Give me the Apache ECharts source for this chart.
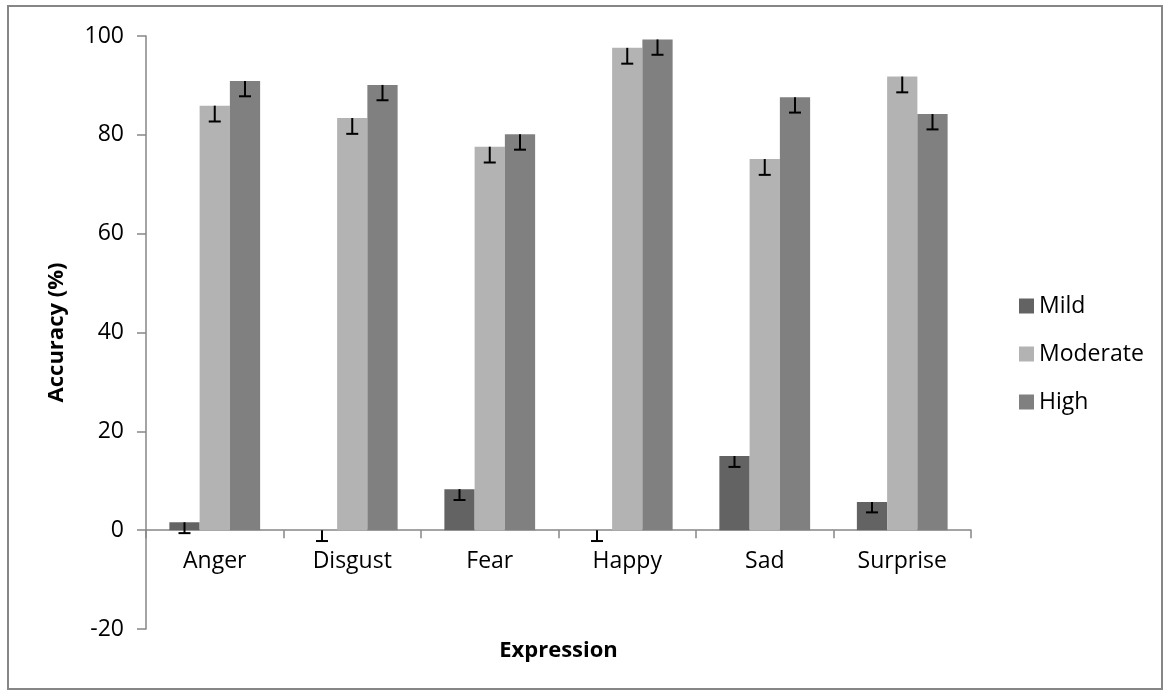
<!DOCTYPE html>
<html>
<head>
<meta charset="utf-8">
<script src="https://cdn.jsdelivr.net/npm/echarts@6/dist/echarts.min.js"></script>
<style>
html,body{margin:0;padding:0;background:#fff;}
#chart{width:1169px;height:695px;}
</style>
</head>
<body>
<div id="chart"></div>
<script>
const categories = ['Anger', 'Disgust', 'Fear', 'Happy', 'Sad', 'Surprise'];
const seriesNames = ['Mild', 'Moderate', 'High'];
const mild = [1.6, 0, 8.3, 0, 15.0, 5.7];
const moderate = [85.9, 83.4, 77.6, 97.6, 75.1, 91.8];
const high = [90.9, 90.1, 80.1, 99.3, 87.6, 84.2];
const mildErr = [2.2, 2.2, 2.2, 2.2, 2.2, 2.1];
const moderateErr = [3.2, 3.2, 3.2, 3.2, 3.2, 3.2];
const highErr = [3.1, 3.1, 3.1, 3.1, 3.1, 3.1];
const yTicks = [-20, 0, 20, 40, 60, 80, 100];
const colors = ['#636363', '#b3b3b3', '#808080'];

const FONT = 'Open Sans';
const values = [mild, moderate, high];
const errs = [mildErr, moderateErr, highErr];
const GAP = 0.34;

const GRID = { left: 146, right: 198, top: 36, bottom: 66 };
const plotH = 695 - GRID.top - GRID.bottom;
const yMin = yTicks[0], yMax = yTicks[yTicks.length - 1];
// distance from the bottom of the plot up to the zero line
const zeroOffset = plotH * (0 - yMin) / (yMax - yMin);

function errorSeries(idx) {
  return {
    type: 'custom',
    name: seriesNames[idx] + ' error',
    z: 10,
    silent: true,
    data: categories.map((c, i) => [i, values[idx][i], errs[idx][i]]),
    renderItem: function (params, api) {
      const ci = api.value(0), v = api.value(1), e = api.value(2);
      const bandW = api.size([1, 0])[0];
      const barW = bandW * (1 - GAP) / 3;
      const p = api.coord([ci, v]);
      const q = api.coord([ci, v - e]);
      const cx = p[0] + (idx - 1) * barW;
      const style = { stroke: '#000', lineWidth: 2 };
      return {
        type: 'group',
        children: [
          { type: 'line', shape: { x1: cx, y1: p[1], x2: cx, y2: q[1] }, style: style },
          { type: 'line', shape: { x1: cx - 6, y1: q[1], x2: cx + 6, y2: q[1] }, style: style }
        ]
      };
    }
  };
}

const chart = echarts.init(document.getElementById('chart'));
const option = {
  animation: false,
  backgroundColor: '#fff',
  textStyle: { fontFamily: FONT },
  grid: Object.assign({ containLabel: false, outerBoundsMode: 'none' }, GRID),
  legend: {
    data: seriesNames,
    orient: 'vertical',
    left: 1014,
    top: 289,
    itemWidth: 15,
    itemHeight: 15,
    itemGap: 24,
    icon: 'rect',
    textStyle: { fontFamily: FONT, fontSize: 23, color: '#000', lineHeight: 24 }
  },
  xAxis: {
    type: 'category',
    data: categories,
    position: 'bottom',
    offset: -zeroOffset,
    name: 'Expression',
    nameLocation: 'middle',
    nameGap: 110,
    nameTextStyle: { fontFamily: FONT, fontSize: 22, fontWeight: 'bold', color: '#000' },
    axisLine: { onZero: false, lineStyle: { color: '#868686', width: 1.5 } },
    axisTick: { show: true, length: 8, lineStyle: { color: '#868686', width: 1.5 } },
    axisLabel: { fontFamily: FONT, fontSize: 23, color: '#000', margin: 20 },
    splitLine: { show: false }
  },
  yAxis: {
    type: 'value',
    min: yMin,
    max: yMax,
    interval: 20,
    name: 'Accuracy (%)',
    nameLocation: 'middle',
    nameGap: 78,
    nameTextStyle: { fontFamily: FONT, fontSize: 22, fontWeight: 'bold', color: '#000' },
    axisLine: { show: true, onZero: false, lineStyle: { color: '#868686', width: 1.5 } },
    axisTick: { show: true, length: 9, lineStyle: { color: '#868686', width: 1.5 } },
    axisLabel: { fontFamily: FONT, fontSize: 23, color: '#000', margin: 22 },
    splitLine: { show: false }
  },
  graphic: [{
    type: 'rect',
    shape: { x: 8, y: 6, width: 1154, height: 683 },
    style: { fill: 'none', stroke: '#868686', lineWidth: 2 },
    silent: true,
    z: -1
  }],
  series: [
    ...seriesNames.map((n, idx) => ({
      type: 'bar',
      name: n,
      data: values[idx],
      barGap: '0%',
      barCategoryGap: '34%',
      itemStyle: { color: colors[idx] }
    })),
    errorSeries(0), errorSeries(1), errorSeries(2)
  ]
};
chart.setOption(option);
</script>
</body>
</html>
